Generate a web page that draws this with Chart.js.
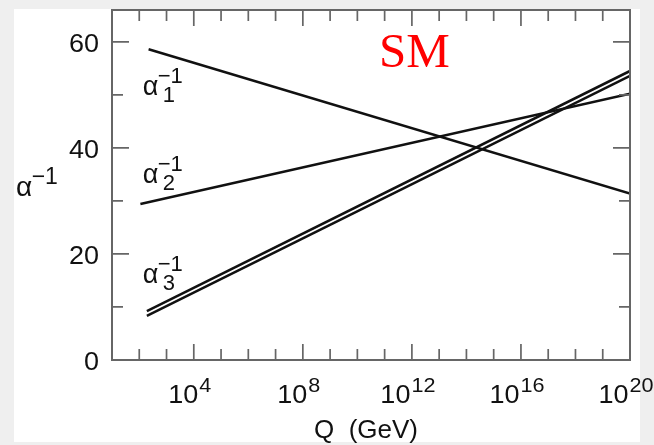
<!DOCTYPE html>
<html>
<head>
<meta charset="utf-8">
<title>Running couplings, SM</title>
<script src="https://cdn.jsdelivr.net/npm/chart.js@4.4.1/dist/chart.umd.min.js"></script>
<style>
  html, body { margin: 0; padding: 0; background: #efefef; }
  canvas { display: block; }
</style>
</head>
<body>
<canvas id="chart" width="654" height="445"></canvas>
<script>
// Inverse couplings, at both ends of each line (Q in GeV)
const alpha1Q = [2.2e2, 1e20];
const alpha1Inv = [58.6, 31.4];
const alpha2Q = [1.1e2, 1e20];
const alpha2Inv = [29.4, 50.2];
const alpha3Q = [1.9e2, 1e20];
const alpha3InvUpper = [9.2, 54.5];
const alpha3InvLower = [8.3, 53.6];

// Axes
const yTickValues = [0, 10, 20, 30, 40, 50, 60];
const yTickLabels = ['0', '', '20', '', '40', '', '60'];
const xTickExponents = [2, 3, 4, 5, 6, 7, 8, 9, 10, 11, 12, 13, 14, 15, 16, 17, 18, 19];
const xLabelExponents = [4, 8, 12, 16, 20];

// Where the alpha labels sit, in data space
const couplingLabels = [
  { sub: '1', q: 133, v: 50.0 },
  { sub: '2', q: 133, v: 33.4 },
  { sub: '3', q: 133, v: 14.6 },
];

const SANS = '"Liberation Sans", Arial, Helvetica, sans-serif';
const SERIF = '"Liberation Serif", "Times New Roman", serif';
const FRAME_COLOR = '#666666';
const LINE_COLOR = '#111111';
const WIDE = 1.08; // the original lettering runs a little wide

function toPoints(qs, vs) {
  return qs.map((q, i) => ({ x: q, y: vs[i] }));
}

function lineDataset(qs, vs) {
  return {
    data: toPoints(qs, vs),
    borderColor: LINE_COLOR,
    borderWidth: 2.5,
    pointRadius: 0,
    tension: 0,
    fill: false,
  };
}

// text drawn slightly stretched sideways, left aligned at x
function wideText(ctx, text, x, y) {
  ctx.save();
  ctx.translate(x, y);
  ctx.scale(WIDE, 1);
  ctx.fillText(text, 0, 0);
  ctx.restore();
}

// alpha with a stacked sub/superscript, like alpha_1^-1
function drawAlpha(ctx, x, y, sub, size) {
  ctx.textAlign = 'left';
  ctx.textBaseline = 'alphabetic';
  ctx.font = `${size}px ${SANS}`;
  ctx.fillText('α', x, y);
  const s = Math.round(size * 0.82);
  const dx = size * 0.56;
  ctx.font = `${s}px ${SANS}`;
  ctx.fillText('−1', x + dx, y - 12);
  if (sub) ctx.fillText(sub, x + dx + 5, y + 7);
}

const framePlugin = {
  id: 'framePlugin',
  beforeDraw(chart) {
    const { ctx, width, height } = chart;
    ctx.save();
    ctx.fillStyle = '#efefef';
    ctx.fillRect(0, 0, width, height);
    ctx.fillStyle = '#ffffff';
    ctx.fillRect(14, 9, 626, 433);
    ctx.restore();
  },
  afterDraw(chart) {
    const { ctx, chartArea: area } = chart;
    const xs = chart.scales.x;
    const ys = chart.scales.y;
    ctx.save();

    // box
    ctx.strokeStyle = FRAME_COLOR;
    ctx.lineWidth = 2;
    ctx.strokeRect(area.left, area.top, area.right - area.left, area.bottom - area.top);

    // inward ticks on all four sides
    ctx.lineWidth = 1.7;
    ctx.beginPath();
    xTickExponents.forEach((e) => {
      const px = xs.getPixelForValue(Math.pow(10, e));
      const len = e % 4 === 0 ? 16 : 11;
      ctx.moveTo(px, area.bottom);
      ctx.lineTo(px, area.bottom - len);
      ctx.moveTo(px, area.top);
      ctx.lineTo(px, area.top + len);
    });
    yTickValues.forEach((v) => {
      if (v === 0) return;
      const py = ys.getPixelForValue(v);
      const len = v % 20 === 0 ? 17 : 11;
      ctx.moveTo(area.left, py);
      ctx.lineTo(area.left + len, py);
      ctx.moveTo(area.right, py);
      ctx.lineTo(area.right - len, py);
    });
    ctx.stroke();

    ctx.fillStyle = '#111';
    ctx.textAlign = 'left';

    // y tick labels, right edge 13px left of the axis
    ctx.font = `25px ${SANS}`;
    ctx.textBaseline = 'middle';
    yTickValues.forEach((v, i) => {
      if (!yTickLabels[i]) return;
      const w = ctx.measureText(yTickLabels[i]).width * WIDE;
      wideText(ctx, yTickLabels[i], area.left - 13 - w, ys.getPixelForValue(v) + 3);
    });

    // x tick labels, 10 with a raised exponent
    ctx.textBaseline = 'alphabetic';
    xLabelExponents.forEach((e) => {
      const px = xs.getPixelForValue(Math.pow(10, e));
      ctx.font = `25px ${SANS}`;
      const wBase = ctx.measureText('10').width * WIDE;
      ctx.font = `20px ${SANS}`;
      const wExp = ctx.measureText(String(e)).width * WIDE;
      const start = px - 4 - (wBase + 1 + wExp) / 2;
      ctx.font = `25px ${SANS}`;
      wideText(ctx, '10', start, area.bottom + 43);
      ctx.font = `20px ${SANS}`;
      wideText(ctx, String(e), start + wBase + 1, area.bottom + 32);
    });

    // axis titles
    ctx.font = `26px ${SANS}`;
    ctx.textAlign = 'center';
    ctx.fillText('Q  (GeV)', 366, area.bottom + 78);
    drawAlpha(ctx, 16, 196, '', 28);

    // curve labels
    couplingLabels.forEach((l) => {
      drawAlpha(ctx, xs.getPixelForValue(l.q), ys.getPixelForValue(l.v), l.sub, 27);
    });

    // model tag
    ctx.fillStyle = '#ff0000';
    ctx.font = `49px ${SERIF}`;
    ctx.textAlign = 'left';
    ctx.fillText('SM', 379, 67);

    ctx.restore();
  },
};

new Chart(document.getElementById('chart'), {
  type: 'line',
  data: {
    datasets: [
      lineDataset(alpha1Q, alpha1Inv),
      lineDataset(alpha2Q, alpha2Inv),
      lineDataset(alpha3Q, alpha3InvUpper),
      lineDataset(alpha3Q, alpha3InvLower),
    ],
  },
  options: {
    responsive: false,
    animation: false,
    events: [],
    layout: { padding: { left: 112, top: 10, right: 24, bottom: 85 } },
    scales: {
      x: { type: 'logarithmic', min: 10, max: 1e20, display: false },
      y: { type: 'linear', min: 0, max: 66, display: false },
    },
    plugins: {
      legend: { display: false },
      tooltip: { enabled: false },
    },
  },
  plugins: [framePlugin],
});
</script>
</body>
</html>
